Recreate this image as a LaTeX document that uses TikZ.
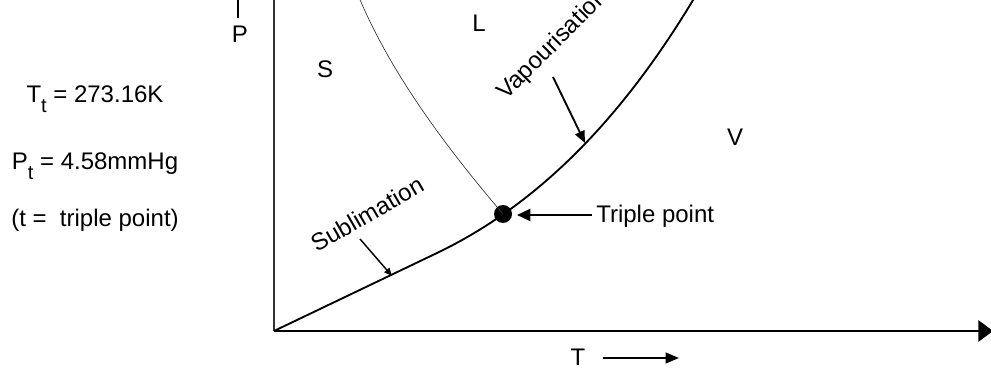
\documentclass[tikz,border=0pt]{standalone}
\usepackage{fontspec}
\setmainfont{Liberation Sans}
\usetikzlibrary{arrows.meta}
\newcommand{\mysubt}{\raisebox{-7.5pt}{\fontsize{15}{15}\selectfont t}}
\begin{document}
\begin{tikzpicture}[x=0.75pt,y=-0.75pt,
  lbl/.style={font=\fontsize{18}{21}\selectfont, inner sep=0pt},
  axisline/.style={line width=1.5pt},
  curveline/.style={line width=1.4pt},
  fusionline/.style={line width=0.5pt, black!80},
  ptr/.style={line width=1.4pt, -{Triangle[length=9pt,width=7.5pt]}},
  smallptr/.style={line width=1.1pt, -{Triangle[length=6pt,width=5pt]}}]
\useasboundingbox (0,0) rectangle (991,370);
\clip (0,0) rectangle (991,370);

% axes
\coordinate (O) at (274,331);
\coordinate (Ytop) at (274,-10);
\coordinate (Xend) at (993,331);
\draw[axisline, black!80] (O) -- (Ytop);
\draw[axisline, -{Triangle[length=11pt,width=16pt]}] (O) -- (Xend);

% axis labels
\node[lbl, anchor=base] (P) at (240,43) {P};
\coordinate (Pa) at (238,18);
\coordinate (Pb) at (238,-4);
\draw[line width=1.4pt] (Pa) -- (Pb);
\node[lbl, anchor=base] (T) at (578,365) {T};
\coordinate (Ta) at (603,358);
\coordinate (Tb) at (679,358);
\draw[line width=1.4pt, -{Triangle[length=10pt,width=8pt]}] (Ta) -- (Tb);

% phase labels
\node[lbl, anchor=base] (S) at (325,78) {S};
\node[lbl, anchor=base] (L) at (479,32) {L};
\node[lbl] (V) at (735,137) {V};

% curves
\coordinate (C1) at (437,253);
\coordinate (Cend) at (706,-22);
\coordinate (Ftop) at (356,-10);
\node[circle, fill=black, inner sep=0pt, minimum size=13.5pt] (TP) at (503,214) {};
\draw[curveline] (O) -- (C1) .. controls (537,205) and (626,118) .. (Cend);
\draw[fusionline] (Ftop) .. controls (386,65) and (439,139) .. (TP.center);

% triple point
\node[lbl, anchor=base west] (TPL) at (596,223) {Triple point};
\coordinate (TPa) at (592,215);
\coordinate (TPb) at (517,215);
\draw[line width=1.8pt, -{Triangle[length=10pt,width=9pt]}] (TPa) -- (TPb);

% curve labels
\node[lbl, rotate=30] (SUB) at (367,214) {Sublimation};
\coordinate (SUBa) at (360,239);
\coordinate (SUBb) at (392,276);
\draw[smallptr] (SUBa) -- (SUBb);
\node[lbl, rotate=45, anchor=base west] (VAP) at (506,101) {Vapourisation};
\coordinate (VAPa) at (553,77);
\coordinate (VAPb) at (585,143);
\draw[ptr] (VAPa) -- (VAPb);

% triple point data
\node[lbl, anchor=base] (Tt) at (95,103) {T\mysubt\ = 273.16K};
\node[lbl, anchor=base] (Pt) at (95,170) {P\mysubt\ = 4.58mmHg};
\node[lbl, anchor=base] (tdef) at (95,227) {(t =\ \ triple point)};
\end{tikzpicture}
\end{document}
